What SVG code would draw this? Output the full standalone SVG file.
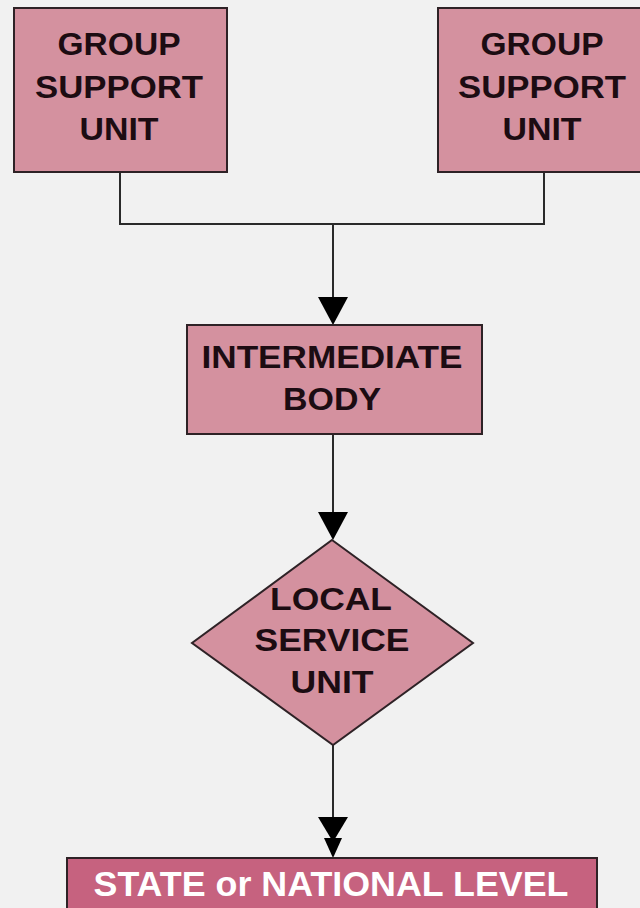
<svg xmlns="http://www.w3.org/2000/svg" width="640" height="908" viewBox="0 0 640 908">
<style>
.bg{fill:#f1f1f1}
.box{fill:#d4919f;stroke:#2e2226;stroke-width:2}
.dark{fill:#c6627f;stroke:#2e2226;stroke-width:2}
.t{font-family:"Liberation Sans",Arial,sans-serif;font-weight:bold;font-size:32px;fill:#1c0c12;text-anchor:middle}
.w{font-family:"Liberation Sans",Arial,sans-serif;font-weight:bold;font-size:35px;fill:#ffffff;text-anchor:middle}
.ln{fill:none;stroke:#2a2a2a;stroke-width:2}
.ah{fill:#000000}
</style>
<rect class="bg" x="0" y="0" width="640" height="908"/>
<g id="connectors">
<polyline class="ln" points="120,172 120,224 544,224 544,172"/>
<line class="ln" x1="333" y1="224" x2="333" y2="300"/>
<polygon class="ah" points="318,297 348,297 333,325"/>
<line class="ln" x1="333" y1="434" x2="333" y2="515"/>
<polygon class="ah" points="318,512 348,512 333,540"/>
<line class="ln" x1="333" y1="745" x2="333" y2="820"/>
<polygon class="ah" points="318,817 348,817 333,842"/>
<polygon class="ah" points="324,838 342,838 333,858"/>
</g>
<g id="group-support-left">
<rect class="box" x="14" y="8" width="213" height="164"/>
<text class="t" x="119" y="55" textLength="123" lengthAdjust="spacingAndGlyphs">GROUP</text>
<text class="t" x="119" y="98" textLength="168" lengthAdjust="spacingAndGlyphs">SUPPORT</text>
<text class="t" x="119" y="140" textLength="79" lengthAdjust="spacingAndGlyphs">UNIT</text>
</g>
<g id="group-support-right">
<rect class="box" x="438" y="8" width="210" height="164"/>
<text class="t" x="542" y="55" textLength="123" lengthAdjust="spacingAndGlyphs">GROUP</text>
<text class="t" x="542" y="98" textLength="168" lengthAdjust="spacingAndGlyphs">SUPPORT</text>
<text class="t" x="542" y="140" textLength="79" lengthAdjust="spacingAndGlyphs">UNIT</text>
</g>
<g id="intermediate-body">
<rect class="box" x="187" y="325" width="295" height="109"/>
<text class="t" x="332" y="368" textLength="261" lengthAdjust="spacingAndGlyphs">INTERMEDIATE</text>
<text class="t" x="332" y="410" textLength="98" lengthAdjust="spacingAndGlyphs">BODY</text>
</g>
<g id="local-service-unit">
<polygon class="box" points="332,540 473,643 333,745 192,643"/>
<text class="t" x="331" y="610" textLength="122" lengthAdjust="spacingAndGlyphs">LOCAL</text>
<text class="t" x="332" y="651" textLength="155" lengthAdjust="spacingAndGlyphs">SERVICE</text>
<text class="t" x="332" y="693" textLength="83" lengthAdjust="spacingAndGlyphs">UNIT</text>
</g>
<g id="state-national-level">
<rect class="dark" x="67" y="858" width="530" height="60"/>
<text class="w" x="331" y="896" textLength="475" lengthAdjust="spacingAndGlyphs">STATE or NATIONAL LEVEL</text>
</g>
</svg>
